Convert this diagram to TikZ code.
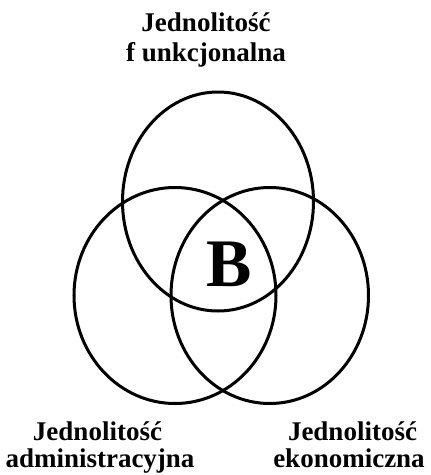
\documentclass[tikz,border=0pt]{standalone}
\usepackage{fontspec}
\setmainfont{Liberation Serif}
\begin{document}
\begin{tikzpicture}[x=1pt,y=-1pt,
  ring/.style={draw=black,line width=3pt},
  lbl/.style={anchor=base,inner sep=0pt,font=\bfseries\fontsize{27}{30}\selectfont},
  big/.style={anchor=base,inner sep=0pt,font=\bfseries\fontsize{68}{72}\selectfont}]
\useasboundingbox (0,0) rectangle (431,475);
\draw[ring] (218,201.5) ellipse [x radius=95.5, y radius=109.5];
\draw[ring] (175,295.5) ellipse [x radius=101, y radius=108];
\draw[ring] (269.75,295.5) ellipse [x radius=98.75, y radius=108];
\node[big] (b) at (229,286.5) {B};
\node[lbl] (topA) at (206,31) {Jednolitość};
\node[lbl] (topB) at (206,61) {f unkcjonalna};
\node[lbl] (leftA) at (97.5,440) {Jednolitość};
\node[lbl] (leftB) at (100,467.5) {administracyjna};
\node[lbl] (rightA) at (352.5,440) {Jednolitość};
\node[lbl] (rightB) at (349,467.5) {ekonomiczna};
\end{tikzpicture}
\end{document}
